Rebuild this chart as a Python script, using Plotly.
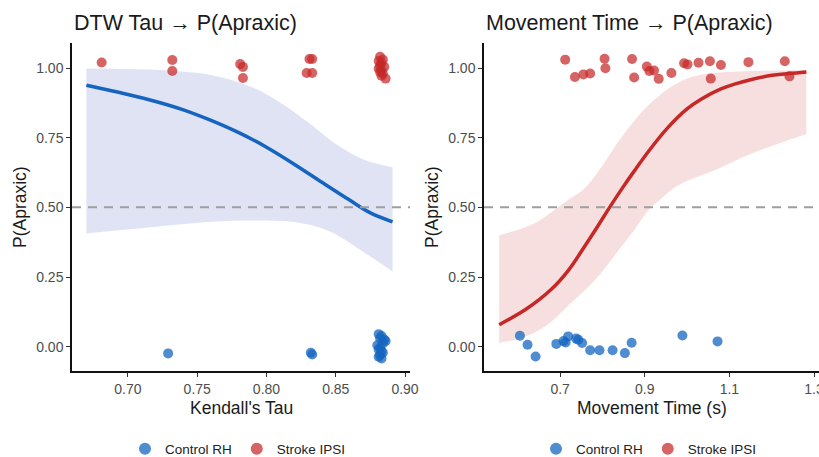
import plotly.graph_objects as go

# ---------------- data ----------------
# Left panel: Kendall's Tau
tau_ctrl_x = [0.729, 0.832, 0.833, 0.881, 0.883, 0.882, 0.886, 0.884, 0.880, 0.882,
              0.881, 0.883, 0.884, 0.882, 0.881, 0.883, 0.885]
tau_ctrl_y = [-0.024, -0.022, -0.028, 0.045, 0.038, 0.030, 0.020, 0.012, 0.005, -0.004,
              -0.010, -0.016, -0.022, -0.030, -0.036, -0.042, 0.026]
tau_strk_x = [0.681, 0.732, 0.732, 0.781, 0.783, 0.783, 0.831, 0.833, 0.829, 0.833,
              0.882, 0.884, 0.881, 0.883, 0.882, 0.885, 0.881, 0.883, 0.882, 0.884, 0.883, 0.886]
tau_strk_y = [1.020, 1.029, 0.989, 1.014, 1.004, 0.964, 1.032, 1.032, 0.982, 0.982,
              1.040, 1.030, 1.025, 1.018, 1.010, 1.004, 0.998, 0.992, 0.986, 0.980, 0.972, 0.962]

tau_curve_x = [0.670, 0.700, 0.720, 0.740, 0.760, 0.780, 0.800, 0.820, 0.840, 0.860, 0.875, 0.891]
tau_curve_y = [0.938, 0.905, 0.880, 0.850, 0.812, 0.768, 0.716, 0.655, 0.590, 0.526, 0.480, 0.448]
tau_hi_x = [0.670, 0.700, 0.730, 0.760, 0.790, 0.810, 0.830, 0.850, 0.870, 0.891]
tau_hi_y = [0.998, 0.996, 0.990, 0.975, 0.930, 0.875, 0.805, 0.727, 0.672, 0.644]
tau_lo_x = [0.670, 0.720, 0.760, 0.790, 0.820, 0.845, 0.870, 0.891]
tau_lo_y = [0.406, 0.430, 0.448, 0.453, 0.447, 0.415, 0.340, 0.270]

# Right panel: Movement time
mt_ctrl_x = [0.605, 0.623, 0.642, 0.691, 0.708, 0.713, 0.719, 0.738, 0.743, 0.752,
             0.771, 0.793, 0.824, 0.853, 0.869, 0.989, 1.072]
mt_ctrl_y = [0.039, 0.007, -0.035, 0.010, 0.020, 0.015, 0.037, 0.029, 0.025, 0.013,
             -0.013, -0.013, -0.013, -0.023, 0.014, 0.040, 0.019]
mt_strk_x = [0.712, 0.735, 0.755, 0.771, 0.805, 0.807, 0.870, 0.875, 0.905, 0.911, 0.922,
             0.933, 0.963, 0.993, 1.001, 1.027, 1.054, 1.056, 1.080, 1.145, 1.231, 1.242]
mt_strk_y = [1.030, 0.968, 0.977, 0.980, 1.033, 0.999, 1.032, 0.966, 1.005, 0.989, 0.991,
             0.961, 0.982, 1.017, 1.013, 1.019, 1.024, 0.962, 1.011, 1.021, 1.024, 0.970]

mt_curve_x = [0.556, 0.620, 0.678, 0.720, 0.757, 0.790, 0.820, 0.847, 0.875, 0.910,
              0.954, 1.000, 1.033, 1.080, 1.112, 1.150, 1.190, 1.240, 1.282]
mt_curve_y = [0.079, 0.135, 0.204, 0.275, 0.358, 0.435, 0.507, 0.569, 0.630, 0.703,
              0.785, 0.853, 0.888, 0.925, 0.942, 0.958, 0.971, 0.980, 0.986]
mt_hi_x = [0.556, 0.638, 0.717, 0.757, 0.800, 0.836, 0.875, 0.915, 0.955, 0.993, 1.030, 1.072, 1.180, 1.282]
mt_hi_y = [0.400, 0.442, 0.525, 0.567, 0.650, 0.733, 0.810, 0.876, 0.925, 0.958, 0.975, 0.983, 0.990, 0.993]
mt_lo_x = [0.556, 0.600, 0.638, 0.680, 0.717, 0.760, 0.796, 0.835, 0.875, 0.910, 0.938, 0.965, 0.993, 1.072, 1.151, 1.282]
mt_lo_y = [0.013, 0.028, 0.049, 0.090, 0.144, 0.205, 0.263, 0.340, 0.418, 0.492, 0.530, 0.565, 0.590, 0.638, 0.692, 0.763]

y_ticks = [0.0, 0.25, 0.5, 0.75, 1.0]
y_tick_text = ["0.00", "0.25", "0.50", "0.75", "1.00"]
tau_ticks = [0.70, 0.75, 0.80, 0.85, 0.90]
tau_tick_text = ["0.70", "0.75", "0.80", "0.85", "0.90"]
mt_ticks = [0.7, 0.9, 1.1, 1.3]
mt_tick_text = ["0.7", "0.9", "1.1", "1.3"]

# ---------------- style ----------------
FONT = "Liberation Sans, Arial, sans-serif"
BLUE_LINE = "#1565C0"
RED_LINE = "#C62828"
BLUE_PT = "rgba(21,101,192,0.75)"
RED_PT = "rgba(198,40,40,0.72)"
BLUE_BAND = "rgba(63,81,181,0.16)"
RED_BAND = "rgba(198,40,40,0.15)"
W, H = 819, 457

fig = go.Figure()

def add_panel(xa, ya, hx, hy, lx, ly, cx, cy, band, line, ctrl, strk, legend):
    fig.add_trace(go.Scatter(x=lx, y=ly, mode="lines", line=dict(width=0, shape="spline"),
                             hoverinfo="skip", showlegend=False, xaxis=xa, yaxis=ya))
    fig.add_trace(go.Scatter(x=hx, y=hy, mode="lines", line=dict(width=0, shape="spline"),
                             fill="tonexty", fillcolor=band,
                             hoverinfo="skip", showlegend=False, xaxis=xa, yaxis=ya))
    fig.add_trace(go.Scatter(x=cx, y=cy, mode="lines", line=dict(color=line, width=3.5, shape="spline"),
                             showlegend=False, xaxis=xa, yaxis=ya))
    fig.add_trace(go.Scatter(x=ctrl[0], y=ctrl[1], mode="markers", name="Control RH",
                             marker=dict(color=BLUE_PT, size=10, line=dict(width=0)),
                             xaxis=xa, yaxis=ya, legend=legend))
    fig.add_trace(go.Scatter(x=strk[0], y=strk[1], mode="markers", name="Stroke IPSI",
                             marker=dict(color=RED_PT, size=10, line=dict(width=0)),
                             xaxis=xa, yaxis=ya, legend=legend))

add_panel("x", "y", tau_hi_x, tau_hi_y, tau_lo_x, tau_lo_y, tau_curve_x, tau_curve_y,
          BLUE_BAND, BLUE_LINE, (tau_ctrl_x, tau_ctrl_y), (tau_strk_x, tau_strk_y), "legend")
add_panel("x2", "y2", mt_hi_x, mt_hi_y, mt_lo_x, mt_lo_y, mt_curve_x, mt_curve_y,
          RED_BAND, RED_LINE, (mt_ctrl_x, mt_ctrl_y), (mt_strk_x, mt_strk_y), "legend2")

axis_common = dict(showgrid=False, zeroline=False, showline=True, linecolor="#111", linewidth=1.5,
                   ticks="outside", ticklen=4, tickcolor="#333", tickwidth=1.2, automargin=False,
                   ticklabeloverflow="allow",
                   tickfont=dict(family=FONT, size=14, color="#4d4d4d"), mirror=False)

y_dom = [1 - 371 / H, 1 - 43 / H]
yr = [-0.0872, 1.0897]
leg_common = dict(orientation="h", y=1 - 449 / H, yanchor="middle", traceorder="normal",
                  font=dict(family=FONT, size=13.5, color="#222"), bgcolor="rgba(0,0,0,0)",
                  itemsizing="constant")
fig.update_layout(
    width=W, height=H, margin=dict(l=0, r=0, t=0, b=0, autoexpand=False),
    paper_bgcolor="white", plot_bgcolor="white",
    font=dict(family=FONT, color="#222"),
    xaxis=dict(domain=[72 / W, 410 / W], range=[0.6596, 0.9036], tickvals=tau_ticks,
               ticktext=tau_tick_text, anchor="y", **axis_common),
    yaxis=dict(domain=y_dom, range=yr, tickvals=y_ticks, ticktext=y_tick_text,
               anchor="x", **axis_common),
    xaxis2=dict(domain=[484 / W, 1.0], range=[0.5201, 1.3118], tickvals=mt_ticks,
                ticktext=mt_tick_text, anchor="y2", **axis_common),
    yaxis2=dict(domain=y_dom, range=yr, tickvals=y_ticks, ticktext=y_tick_text,
                anchor="x2", **axis_common),
    legend=dict(x=238 / W, xanchor="center", **leg_common),
    legend2=dict(x=649 / W, xanchor="center", **leg_common),
)

for xr in ["x", "x2"]:
    fig.add_shape(type="line", xref=f"{xr} domain", yref="y" if xr == "x" else "y2",
                  x0=0, x1=1, y0=0.5, y1=0.5, line=dict(color="#9e9e9e", width=2, dash="9px,7px"),
                  layer="above")

annots = [
    dict(text="DTW Tau → P(Apraxic)", x=72 / W, y=1 - 23 / H, xanchor="left", yanchor="middle", size=21.5),
    dict(text="Movement Time → P(Apraxic)", x=484 / W, y=1 - 23 / H, xanchor="left", yanchor="middle", size=21.5),
    dict(text="Kendall's Tau", x=241 / W, y=1 - 408 / H, xanchor="center", yanchor="middle", size=17.5),
    dict(text="Movement Time (s)", x=652 / W, y=1 - 408 / H, xanchor="center", yanchor="middle", size=17.5),
]
for a in annots:
    fig.add_annotation(text=a["text"], x=a["x"], y=a["y"], xref="paper", yref="paper",
                       xanchor=a["xanchor"], yanchor=a["yanchor"], showarrow=False,
                       font=dict(family=FONT, size=a["size"], color="#1a1a1a"))
for xp in [20, 432]:
    fig.add_annotation(text="P(Apraxic)", x=xp / W, y=1 - 207 / H, xref="paper", yref="paper",
                       xanchor="center", yanchor="middle", textangle=-90, showarrow=False,
                       font=dict(family=FONT, size=17.5, color="#1a1a1a"))

fig.write_html("out.html")
